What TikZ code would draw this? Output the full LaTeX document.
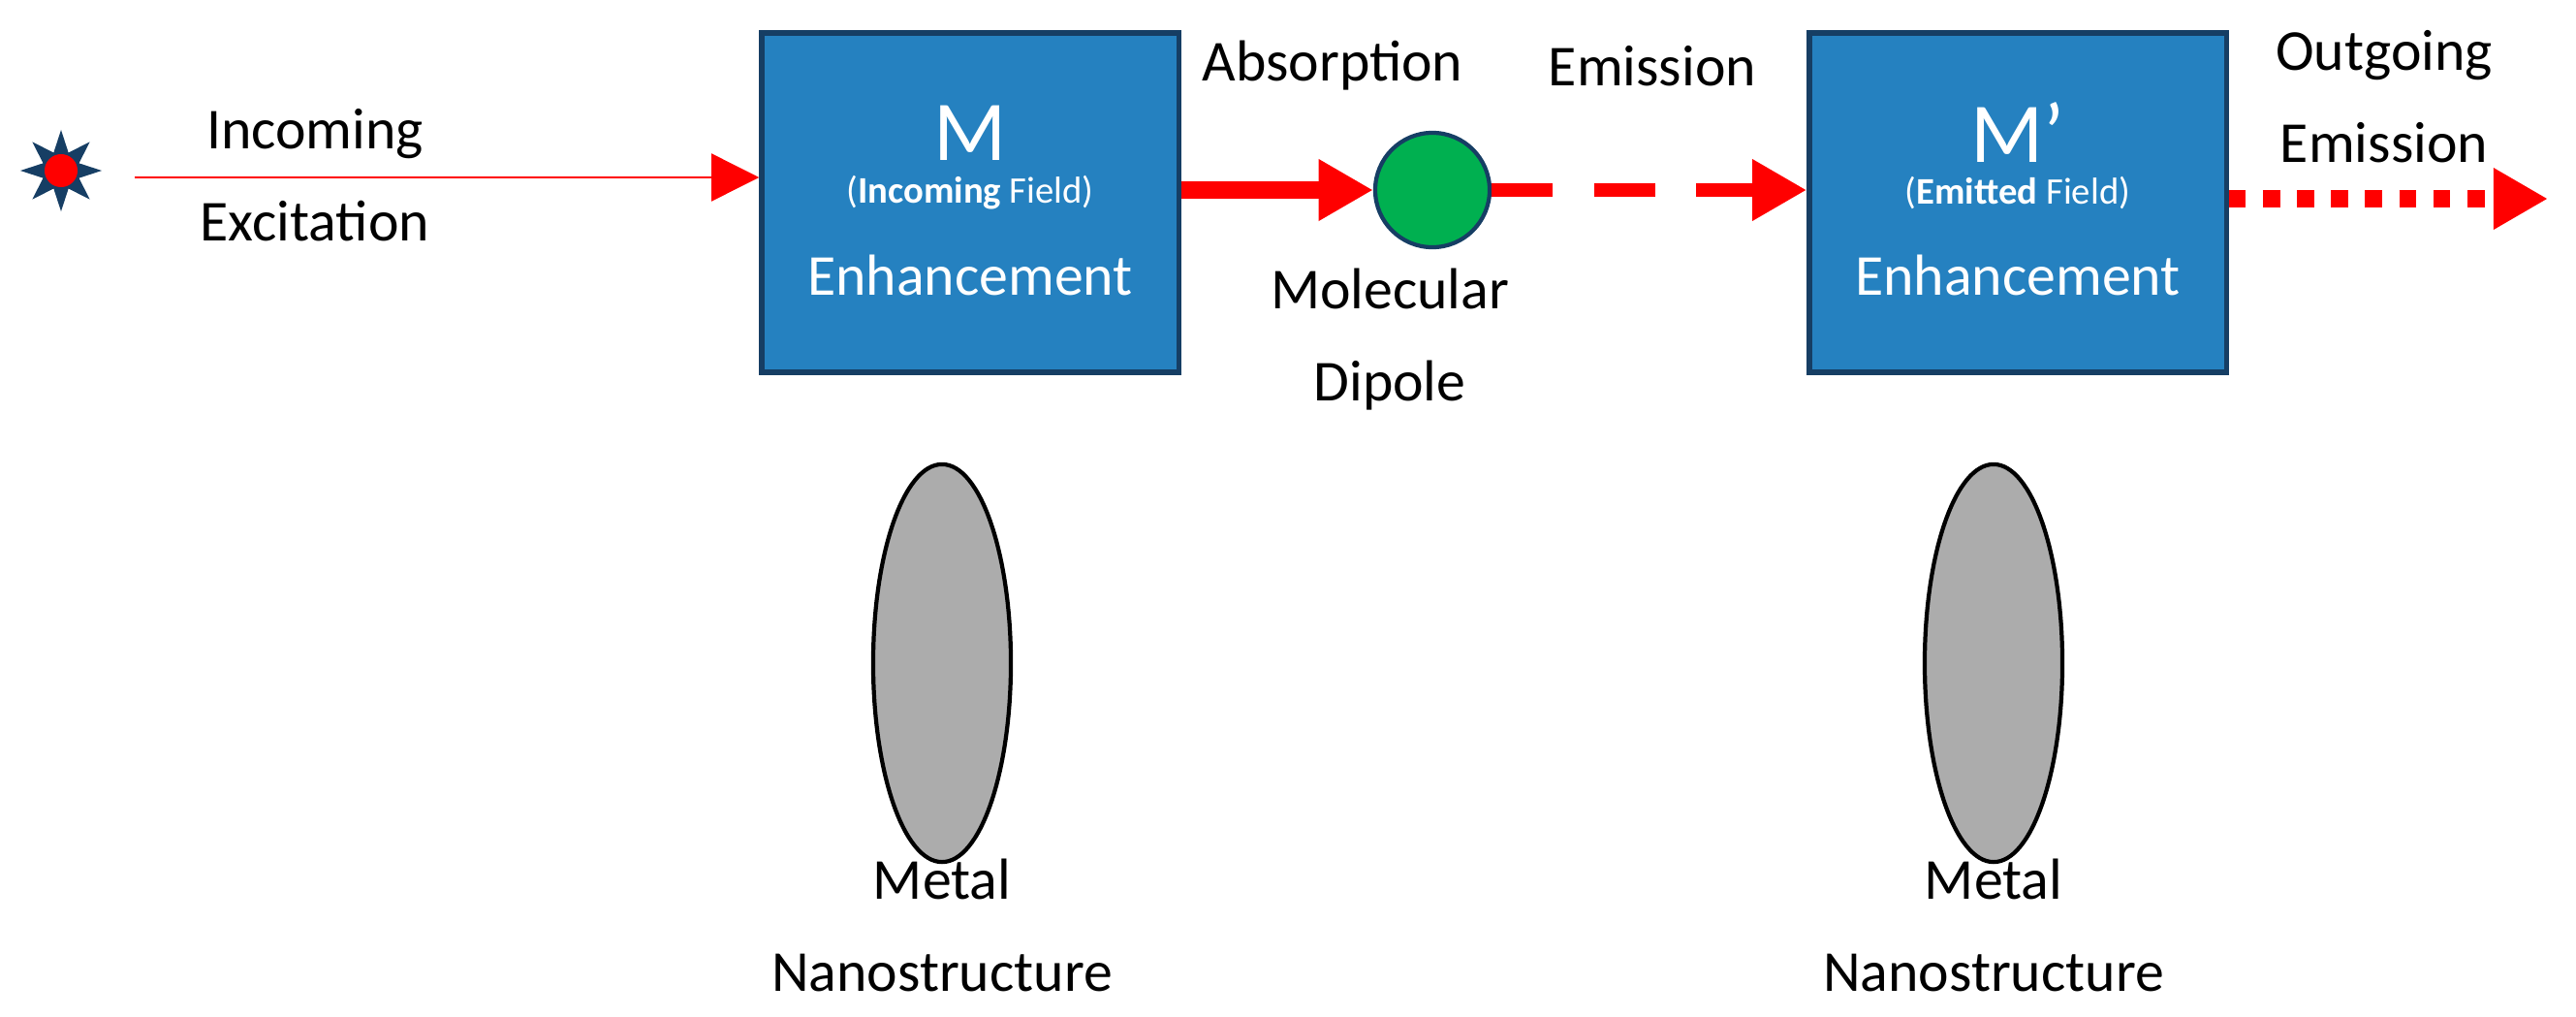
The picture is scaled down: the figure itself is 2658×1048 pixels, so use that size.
\documentclass[tikz,border=0pt]{standalone}
\usepackage{fontspec}
\setmainfont{Carlito}
\usetikzlibrary{shapes.geometric,arrows.meta}
\definecolor{boxblue}{RGB}{37,129,192}
\definecolor{edgeblue}{RGB}{22,62,100}
\definecolor{dipgreen}{RGB}{0,176,80}
\begin{document}
\begin{tikzpicture}[x=0.01cm, y=-0.01cm,
  label/.style = {align=center, font=\fontsize{17}{21}\selectfont},
  enhance/.style = {draw=edgeblue, line width=1.5pt, fill=boxblue,
    minimum width=4.3cm, minimum height=3.5cm},
  particle/.style = {ellipse, draw, line width=1.2pt, fill=gray!65,
    minimum width=1.42cm, minimum height=4.1cm},
  beam/.style = {red, -{Triangle[length=16pt,width=17pt]}}]
  \useasboundingbox (0,0) rectangle (2658,1048);
  % source
  \node[star, star points=8, star point ratio=2.1, fill=edgeblue,
    minimum size=0.84cm, inner sep=0pt] (src) at (63,176) {};
  \node[circle, fill=red, minimum size=0.34cm, inner sep=0pt] at (src) {};
  \coordinate (srcout) at (139,183);
  % boxes
  \node[enhance] (enh1) at (1001,209) {};
  \node[enhance] (enh2) at (2082,209) {};
  \foreach \b/\what/\m in {enh1/Incoming/M, enh2/Emitted/M’} {
    \node[text=white, font=\fontsize{17}{21}\selectfont] at ([yshift=-0.75cm]\b.center) {Enhancement};
    \node[text=white, font=\fontsize{11}{13}\selectfont] at ([yshift=0.1cm]\b.center) {(\textbf{\what} Field)};
    \node[text=white, font=\fontsize{25}{30}\selectfont] at ([yshift=0.72cm]\b.center) {\m};
  }
  \node[circle, draw=edgeblue, line width=1.2pt, fill=dipgreen,
    minimum size=1.18cm] (dip) at (1478,196) {};
  \coordinate (out) at (2629,205);
  % arrows
  \draw[red, thin, -{Triangle[length=14pt,width=14pt]}] (srcout) -- (srcout -| enh1.west);
  \draw[beam, line width=5pt] (enh1.east |- dip) -- (dip.west);
  \draw[beam, line width=4pt, dash pattern=on 18pt off 12pt] (dip.east) -- (enh2.west |- dip);
  \draw[beam, line width=5pt, dash pattern=on 5pt off 5pt] (enh2.east |- out) -- (out);
  % particles
  \node[particle] (np1) at (972,684) {};
  \node[particle] (np2) at (2057,684) {};
  % labels
  \node[label] at (325,181) {Incoming\\[6pt]Excitation};
  \node[label] at (1375,68) {Absorption};
  \node[label] at (1705,68) {Emission};
  \node[label] at (1434,350) {Molecular\\[6pt]Dipole};
  \node[label] at (2460,100) {Outgoing\\[6pt]Emission};
  \node[label] at (972,954) {Metal\\[6pt]Nanostructure};
  \node[label] at (2057,954) {Metal\\[6pt]Nanostructure};
\end{tikzpicture}
\end{document}
